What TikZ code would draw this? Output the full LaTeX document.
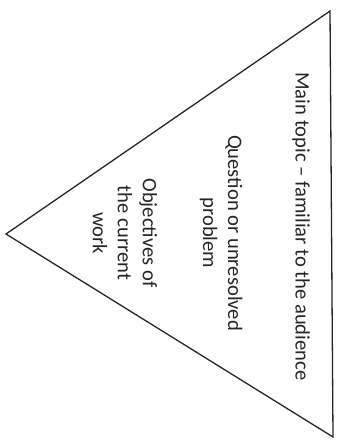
\documentclass[tikz,border=0pt]{standalone}
\usepackage{fontspec}
\setmainfont{Carlito}
\begin{document}
\begin{tikzpicture}[x=1pt,y=-1pt,
  edge/.style={draw=black!85, line width=1.3pt, line join=miter},
  lbl/.style={rotate=-90, align=center, font=\fontsize{20.6}{25}\selectfont, text=black!85, inner sep=0pt}]
\useasboundingbox (0,0) rectangle (340,443);
\coordinate (t) at (330,11);
\coordinate (b) at (333,437);
\coordinate (l) at (6,234);
\draw[edge] (t) -- (b) -- (l) -- cycle;
\node[lbl] (main) at (301,226.5) {Main topic -- familiar to the audience};
\node[lbl] (quest) at (221,233) {Question or unresolved\\problem};
\node[lbl] (obj) at (125,233) {Objectives of\\the current\\work};
\end{tikzpicture}
\end{document}
